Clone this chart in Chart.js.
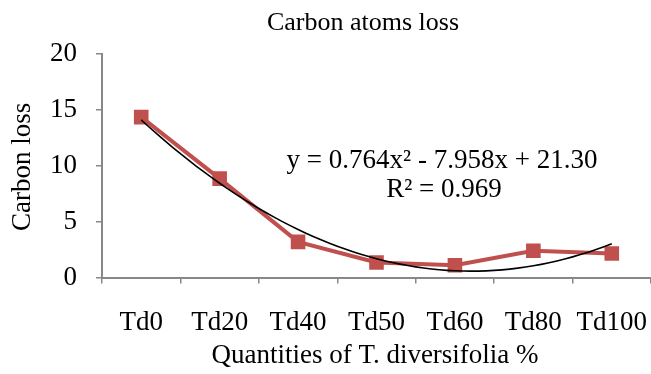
<!DOCTYPE html>
<html>
<head>
<meta charset="utf-8">
<script src="https://cdn.jsdelivr.net/npm/chart.js@4"></script>
<style>
  html, body { margin: 0; padding: 0; background: #fff; }
  #wrap { width: 651px; height: 374px; }
</style>
</head>
<body>
<div id="wrap"><canvas id="chart"></canvas></div>
<script>
const categories = ['Td0', 'Td20', 'Td40', 'Td50', 'Td60', 'Td80', 'Td100'];
const carbonLoss = [14.35, 8.85, 3.2, 1.35, 1.1, 2.4, 2.15];
const yTicks = [0, 5, 10, 15, 20];
// polynomial trendline coefficients as printed on the chart (a, b, c)
const trendCoef = [0.764, -7.958, 21.30];
const trendLabel = ['y = 0.764x² - 7.958x + 21.30', 'R² = 0.969'];
const chartTitle = 'Carbon atoms loss';
const xTitle = 'Quantities of T. diversifolia %';
const yTitle = 'Carbon loss';

const FONT = '"Liberation Serif", "Times New Roman", serif';
const FS = 27;

// trend curve sampled along the category index (x = 1..7)
const trendPts = [];
for (let x = 1; x <= categories.length + 0.001; x += 0.1) {
    trendPts.push({ x: x, y: trendCoef[0] * x * x + trendCoef[1] * x + trendCoef[2] });
}

const textPlugin = {
    id: 'texts',
    afterDraw(chart) {
        const ctx = chart.ctx;
        const a = chart.chartArea;
        ctx.save();
        ctx.fillStyle = '#000';
        ctx.textAlign = 'center';
        ctx.textBaseline = 'middle';
        ctx.font = '26px ' + FONT;
        ctx.fillText(chartTitle, 363, 23);
        ctx.font = FS + 'px ' + FONT;
        ctx.fillText(trendLabel[0], 442, 161);
        ctx.fillText(trendLabel[1], 444, 190);
        ctx.fillText(xTitle, 375, 356);
        ctx.translate(23, (a.top + a.bottom) / 2 + 1);
        ctx.rotate(-Math.PI / 2);
        ctx.fillText(yTitle, 0, 0);
        ctx.restore();
    }
};

new Chart(document.getElementById('chart'), {
    type: 'line',
    data: {
        labels: categories,
        datasets: [{
            label: 'Carbon loss',
            data: carbonLoss,
            borderColor: '#C0504D',
            backgroundColor: '#C0504D',
            borderWidth: 4,
            pointStyle: 'rect',
            pointRadius: 7.5,
            pointHoverRadius: 7.5,
            tension: 0,
            order: 2
        }, {
            label: 'Trend',
            data: trendPts,
            xAxisID: 'xt',
            borderColor: '#000',
            borderWidth: 1.6,
            pointRadius: 0,
            tension: 0,
            order: 1
        }]
    },
    options: {
        responsive: true,
        maintainAspectRatio: false,
        animation: false,
        layout: { autoPadding: false, padding: { top: 54, left: 31, right: 0, bottom: 12 } },
        plugins: {
            legend: { display: false },
            title: { display: false },
            tooltip: { enabled: false }
        },
        scales: {
            x: {
                type: 'category',
                offset: true,
                grid: { offset: true, drawOnChartArea: false, drawTicks: true, tickLength: 6, color: '#888', lineWidth: 1.5 },
                border: { color: '#888', width: 2 },
                ticks: { color: '#000', font: { family: FONT, size: FS }, padding: 23, maxRotation: 0, autoSkip: false },
                afterFit(scale) { scale.paddingLeft = 0; scale.paddingRight = 0; }
            },
            xt: {
                type: 'linear',
                display: false,
                min: 0.5,
                max: categories.length + 0.5
            },
            y: {
                min: 0,
                max: 20,
                afterBuildTicks(scale) { scale.ticks = yTicks.map(v => ({ value: v })); },
                grid: { drawOnChartArea: false, drawTicks: true, tickLength: 6, color: '#888', lineWidth: 1.5 },
                border: { color: '#888', width: 2 },
                ticks: { color: '#000', font: { family: FONT, size: FS }, padding: 19 }
            }
        }
    },
    plugins: [textPlugin]
});
</script>
</body>
</html>
